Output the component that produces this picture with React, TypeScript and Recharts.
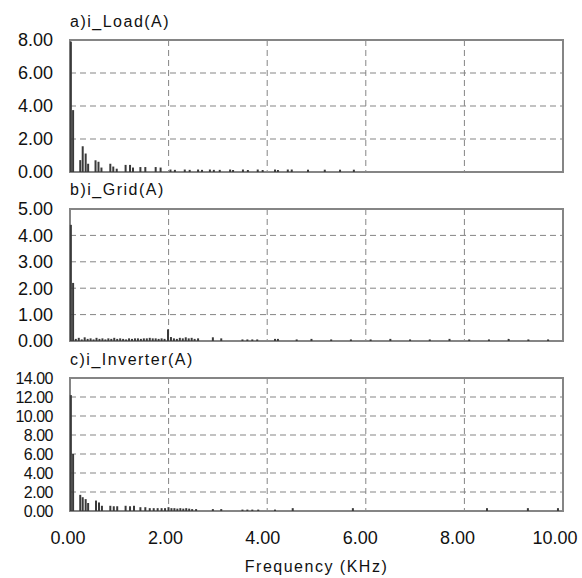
import React from 'react';
import { BarChart, Bar, XAxis, YAxis, CartesianGrid, ReferenceArea } from 'recharts';

const xTicks = [0, 2, 4, 6, 8, 10];
const loadTicks = [0, 2, 4, 6, 8];
const gridTicks = [0, 1, 2, 3, 4, 5];
const invTicks = [0, 2, 4, 6, 8, 10, 12, 14];

const titles = ['a)i_Load(A)', 'b)i_Grid(A)', 'c)i_Inverter(A)'];
const xLabel = 'Frequency (KHz)';

const loadFreq = [0.02, 0.065, 0.21, 0.26, 0.32, 0.37, 0.52, 0.58, 0.64, 0.82, 0.88, 0.95, 1.13, 1.22, 1.28, 1.43, 1.53, 1.74, 1.84, 2.04, 2.13, 2.33, 2.43, 2.6, 2.68, 2.84, 2.92, 3.04, 3.25, 3.31, 3.51, 3.61, 3.81, 3.91, 4.16, 4.22, 4.42, 4.5, 4.83, 5.17, 5.48, 5.76];
const loadAmp = [7.9, 3.75, 0.72, 1.56, 1.12, 0.5, 0.71, 0.62, 0.27, 0.5, 0.33, 0.2, 0.43, 0.43, 0.27, 0.3, 0.3, 0.3, 0.27, 0.15, 0.13, 0.15, 0.13, 0.15, 0.13, 0.15, 0.13, 0.13, 0.15, 0.12, 0.15, 0.12, 0.15, 0.12, 0.15, 0.12, 0.15, 0.15, 0.14, 0.14, 0.14, 0.14];

const gridFreq = [0.02, 0.065, 0.12, 0.18, 0.24, 0.3, 0.36, 0.42, 0.48, 0.54, 0.6, 0.66, 0.72, 0.78, 0.84, 0.9, 0.96, 1.02, 1.08, 1.14, 1.2, 1.26, 1.32, 1.38, 1.44, 1.5, 1.56, 1.62, 1.68, 1.74, 1.8, 1.86, 1.92, 1.99, 2.05, 2.11, 2.17, 2.23, 2.29, 2.35, 2.41, 2.47, 2.53, 2.6, 2.9, 3.07, 3.5, 3.6, 3.7, 3.8, 4.16, 4.22, 4.6, 4.9, 5.3, 5.7, 6.1, 6.5, 6.9, 7.3, 7.7, 8.1, 8.5, 8.9, 9.3, 9.7];
const gridAmp = [4.4, 2.2, 0.08, 0.12, 0.06, 0.14, 0.08, 0.1, 0.06, 0.12, 0.08, 0.1, 0.06, 0.1, 0.08, 0.12, 0.08, 0.1, 0.08, 0.06, 0.1, 0.08, 0.1, 0.1, 0.08, 0.1, 0.1, 0.12, 0.1, 0.1, 0.08, 0.1, 0.08, 0.44, 0.15, 0.1, 0.08, 0.12, 0.1, 0.14, 0.1, 0.12, 0.08, 0.1, 0.14, 0.1, 0.06, 0.06, 0.06, 0.06, 0.08, 0.08, 0.06, 0.08, 0.06, 0.06, 0.06, 0.08, 0.06, 0.06, 0.08, 0.06, 0.06, 0.08, 0.06, 0.06];

const invFreq = [0.02, 0.065, 0.21, 0.26, 0.32, 0.37, 0.53, 0.59, 0.65, 0.82, 0.89, 0.96, 1.13, 1.22, 1.3, 1.43, 1.53, 1.62, 1.7, 1.78, 1.86, 1.93, 2.0, 2.06, 2.12, 2.18, 2.24, 2.3, 2.36, 2.42, 2.48, 2.56, 2.9, 3.07, 3.5, 3.6, 3.7, 3.82, 4.16, 4.52, 5.74, 8.46, 9.29, 9.9];
const invAmp = [12.2, 6.0, 1.7, 1.45, 1.25, 0.84, 1.1, 0.9, 0.55, 0.55, 0.5, 0.5, 0.55, 0.5, 0.55, 0.4, 0.4, 0.3, 0.3, 0.3, 0.3, 0.3, 0.4, 0.3, 0.3, 0.25, 0.3, 0.25, 0.3, 0.25, 0.2, 0.2, 0.2, 0.2, 0.15, 0.15, 0.15, 0.15, 0.15, 0.3, 0.3, 0.3, 0.3, 0.3];

const rows = (f: number[], a: number[]) => f.map((x, i) => ({ f: x, v: a[i] }));

const FONT = '"Liberation Sans", Arial, Helvetica, sans-serif';
const GRID = '#858585';
const BAR = '#3a3a3a';
const W = 582;

const EmptyTick = () => <g />;

const XTick = (props: any) => {
  const { x, y, payload } = props;
  const v = Number(payload.value);
  return (
    <text x={x} y={y} dx={-2 - v * 0.6} dy="0.71em" textAnchor="middle" fontSize={18} fill="#111" fontFamily={FONT}>
      {v.toFixed(2)}
    </text>
  );
};

type PanelProps = {
  data: { f: number; v: number }[];
  yTicks: number[];
  top: number;
  height: number;
  mTop: number;
  mBottom: number;
  showX: boolean;
  yFont: number;
  ySpacing: number;
};

function Panel({ data, yTicks, top, height, mTop, mBottom, showX, yFont, ySpacing }: PanelProps) {
  const yMax = yTicks[yTicks.length - 1];
  return (
    <div style={{ position: 'absolute', left: 0, top, width: W, height }}>
      <BarChart
        width={W}
        height={height}
        data={data}
        margin={{ top: mTop, right: 19, bottom: mBottom, left: 10 }}
        barGap={0}
      >
        <CartesianGrid stroke={GRID} strokeDasharray="6 4" strokeWidth={1} />
        <XAxis
          type="number"
          dataKey="f"
          domain={[0, 10]}
          ticks={xTicks}
          interval={0}
          height={showX ? 62 : 1}
          tick={showX ? <XTick /> : <EmptyTick />}
          axisLine={false}
          tickLine={false}
          tickSize={8}
          tickMargin={12}
          label={showX ? { value: xLabel, position: 'insideBottom', offset: 1, fontSize: 16, fill: '#111', fontFamily: FONT, letterSpacing: 1.5 } : undefined}
        />
        <YAxis
          type="number"
          domain={[0, yMax]}
          ticks={yTicks}
          interval={0}
          width={60}
          tick={{ fontSize: yFont, fill: '#111', fontFamily: FONT, letterSpacing: ySpacing }}
          tickFormatter={(v: number) => v.toFixed(2)}
          axisLine={false}
          tickLine={false}
          tickSize={6}
          tickMargin={11}
        />
        <ReferenceArea x1={0} x2={10} y1={0} y2={yMax} fill="none" stroke={GRID} strokeWidth={2} />
        <Bar dataKey="v" fill={BAR} barSize={2} isAnimationActive={false} />
      </BarChart>
    </div>
  );
}

export default function App() {
  return (
    <div style={{ position: 'absolute', left: 0, top: 0, width: W, height: 578, background: '#fff' }}>
      <Panel data={rows(loadFreq, loadAmp)} yTicks={loadTicks} top={0} height={190} mTop={40} mBottom={17} showX={false} yFont={18} ySpacing={0} />
      <Panel data={rows(gridFreq, gridAmp)} yTicks={gridTicks} top={170} height={190} mTop={39} mBottom={18} showX={false} yFont={18} ySpacing={0} />
      <Panel data={rows(invFreq, invAmp)} yTicks={invTicks} top={340} height={238} mTop={38} mBottom={5} showX={true} yFont={16} ySpacing={-0.5} />
      <svg width={W} height={578} style={{ position: 'absolute', left: 0, top: 0, pointerEvents: 'none' }}>
        <text x={70} y={27} fontSize={16} fontFamily={FONT} fill="#111" letterSpacing={1.5}>{titles[0]}</text>
        <text x={70} y={195} fontSize={16} fontFamily={FONT} fill="#111" letterSpacing={1.5}>{titles[1]}</text>
        <text x={70} y={365} fontSize={16} fontFamily={FONT} fill="#111" letterSpacing={1.5}>{titles[2]}</text>
      </svg>
    </div>
  );
}
